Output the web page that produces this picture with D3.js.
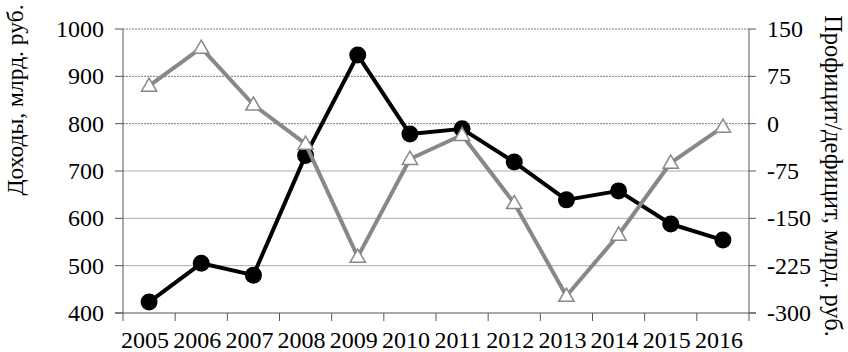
<!DOCTYPE html>
<html><head><meta charset="utf-8">
<script src="https://cdn.jsdelivr.net/npm/d3@7"></script>
<style>body{margin:0;background:#fff}svg{display:block}text{font-family:"Liberation Serif","Times New Roman",serif;fill:#000}</style>
</head><body><svg id="c" width="848" height="352"></svg>
<script>
const years = ["2005","2006","2007","2008","2009","2010","2011","2012","2013","2014","2015","2016"];
const income = [423,505,480,733,945,778,789,719,639,658,588,554];
const balance = [60,120,30,-32,-211,-56,-18,-126,-273,-176,-62,-5];
const leftTicks = [400,500,600,700,800,900,1000];
const rightTicks = [-300,-225,-150,-75,0,75,150];
const leftTitle = "Доходы, млрд. руб.";
const rightTitle = "Профицит/дефицит, млрд. руб.";

const svg = d3.select("#c");
const L=123,R=749,T=29,B=313;
const x = d3.scaleBand().domain(years).range([L,R]);
const yl = d3.scaleLinear().domain([400,1000]).range([B,T]);
const yr = d3.scaleLinear().domain([-300,150]).range([B,T]);
const fs = 24;

// gridlines
svg.append("g").selectAll("line").data(leftTicks.filter(d=>d>400)).join("line")
  .attr("x1",L).attr("x2",R).attr("y1",d=>yl(d)).attr("y2",d=>yl(d))
  .attr("stroke",d=>d>=800?"#777":"#aaa").attr("stroke-width",1)
  .attr("stroke-dasharray",d=>d>=800?"2,1":null);

// axes
const ga = svg.append("g").attr("stroke","#555").attr("stroke-width",1);
ga.append("line").attr("x1",L).attr("x2",L).attr("y1",T).attr("y2",B);
ga.append("line").attr("x1",R).attr("x2",R).attr("y1",T).attr("y2",B);
ga.append("line").attr("x1",L-8).attr("x2",R+7).attr("y1",B).attr("y2",B);
ga.selectAll(".lt").data(leftTicks).join("line").attr("x1",L-8).attr("x2",L).attr("y1",d=>yl(d)).attr("y2",d=>yl(d));
ga.selectAll(".rt").data(rightTicks).join("line").attr("x1",R).attr("x2",R+7).attr("y1",d=>yr(d)).attr("y2",d=>yr(d));
const xt = years.map((d,i)=>i===0?L:x(d)).concat([R]);
ga.selectAll(".xt").data(xt).join("line").attr("x1",d=>d).attr("x2",d=>d).attr("y1",B).attr("y2",B+8);

// tick labels
svg.append("g").selectAll("text").data(leftTicks).join("text")
  .attr("x",L-19).attr("y",d=>yl(d)).attr("dy","0.33em").attr("text-anchor","end")
  .attr("font-size",fs).text(d=>d);
svg.append("g").selectAll("text").data(rightTicks).join("text")
  .attr("x",R+18).attr("y",d=>yr(d)).attr("dy","0.33em").attr("text-anchor","start")
  .attr("font-size",fs).text(d=>d);
svg.append("g").selectAll("text").data(years).join("text")
  .attr("x",d=>x(d)+x.bandwidth()/2-4).attr("y",B+35).attr("text-anchor","middle")
  .attr("font-size",fs).text(d=>d);

// titles
svg.append("text").attr("transform","translate(23,100) rotate(-90)")
  .attr("text-anchor","middle").attr("font-size",23.5).text(leftTitle);
svg.append("text").attr("transform","translate(825,176) rotate(90)")
  .attr("text-anchor","middle").attr("font-size",24.5).text(rightTitle);

const cx = d=>x(d)+x.bandwidth()/2;

// income series
svg.append("path").datum(income).attr("fill","none").attr("stroke","#000").attr("stroke-width",4)
  .attr("stroke-linejoin","round")
  .attr("d",d3.line().x((d,i)=>cx(years[i])).y(d=>yl(d)));
svg.append("g").selectAll("circle").data(income).join("circle")
  .attr("cx",(d,i)=>cx(years[i])).attr("cy",d=>yl(d)).attr("r",8.5).attr("fill","#000");

// balance series
svg.append("path").datum(balance).attr("fill","none").attr("stroke","#888").attr("stroke-width",4)
  .attr("stroke-linejoin","round")
  .attr("d",d3.line().x((d,i)=>cx(years[i])).y(d=>yr(d)));
const tri = d3.symbol().type(d3.symbolTriangle).size(100);
svg.append("g").selectAll("path").data(balance).join("path")
  .attr("transform",(d,i)=>`translate(${cx(years[i])},${yr(d)+1})`)
  .attr("d",tri).attr("fill","#fff").attr("stroke","#888").attr("stroke-width",1.5);
</script></body></html>
